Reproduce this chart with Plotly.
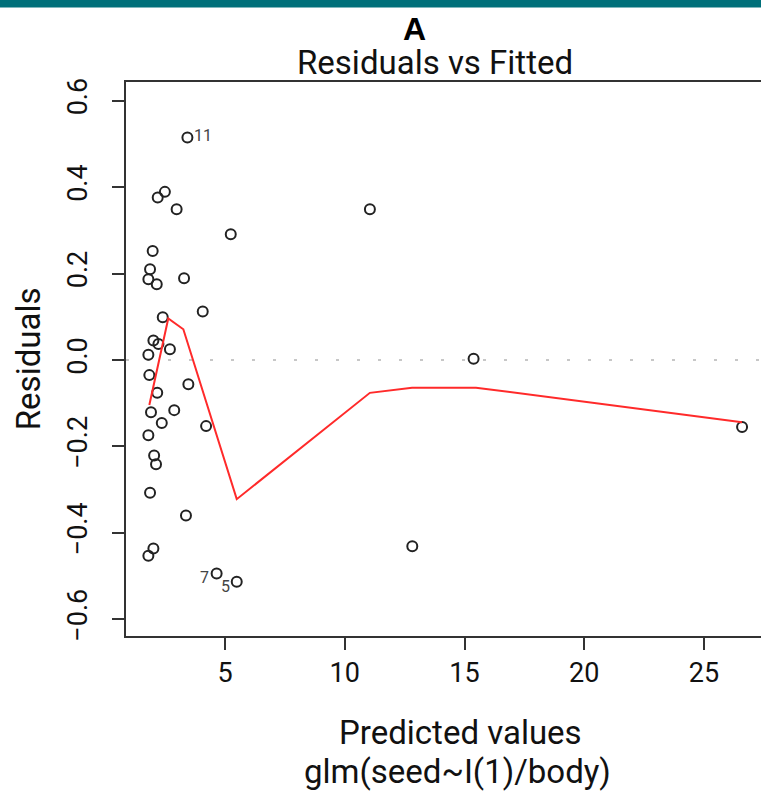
import plotly.graph_objects as go

# Fitted values and residuals of glm(seed ~ I(1)/body)
fitted = [3.43, 2.19, 2.49, 2.98, 5.24, 1.98, 1.87, 1.80, 2.15, 3.29,
          4.07, 2.40, 2.01, 2.22, 2.70, 1.80, 1.84, 2.17, 3.47, 1.91,
          2.88, 2.36, 4.21, 1.80, 2.04, 2.12, 1.87, 3.37, 2.01, 1.80,
          4.65, 5.49, 11.05, 15.38, 12.82, 26.59]
resid = [0.515, 0.376, 0.389, 0.349, 0.291, 0.252, 0.210, 0.187, 0.175, 0.189,
         0.112, 0.099, 0.045, 0.037, 0.025, 0.012, -0.035, -0.076, -0.056, -0.121,
         -0.116, -0.146, -0.153, -0.174, -0.221, -0.241, -0.307, -0.360, -0.436, -0.453,
         -0.494, -0.513, 0.349, 0.003, -0.431, -0.155]

# Observation numbers of the three largest residuals and their positions in the arrays
flag_labels = ["11", "7", "5"]
flag_index = [0, 30, 31]
flag_xshift = [16, -12, -11]
flag_yshift = [2, -4, -5]

# Lowess smoother through the residuals
smooth_x = [1.84, 2.63, 3.26, 5.49, 11.05, 12.81, 15.48, 26.59]
smooth_y = [-0.104, 0.096, 0.071, -0.322, -0.076, -0.064, -0.064, -0.144]

x_ticks = [5, 10, 15, 20, 25]
y_ticks = [-0.6, -0.4, -0.2, 0.0, 0.2, 0.4, 0.6]
y_ticktext = ["\u22120.6", "\u22120.4", "\u22120.2", "0.0", "0.2", "0.4", "0.6"]

FONT = "Roboto, Liberation Sans, sans-serif"
INK = "#222222"

fig = go.Figure()

fig.add_trace(go.Scatter(
    x=fitted, y=resid, mode="markers",
    marker=dict(symbol="circle-open", size=10, color=INK, line=dict(width=2, color=INK)),
    hoverinfo="skip", showlegend=False,
))

fig.add_trace(go.Scatter(
    x=smooth_x, y=smooth_y, mode="lines",
    line=dict(color="#ff2a2a", width=2),
    hoverinfo="skip", showlegend=False,
))

# Reference line at zero residual
fig.add_shape(type="line", xref="paper", yref="y", x0=0, x1=1, y0=0, y1=0,
              line=dict(color="#b5b5b5", width=1.6, dash="3px,18px"), layer="below")

# Teal band along the top edge of the page
fig.add_shape(type="rect", xref="paper", yref="paper",
              x0=-0.2, x1=1.0, y0=1.1345, y1=1.16,
              line=dict(width=0), fillcolor="#00707a")

annotations = []
for lab, i, dx, dy in zip(flag_labels, flag_index, flag_xshift, flag_yshift):
    annotations.append(dict(
        x=fitted[i], y=resid[i], xref="x", yref="y", text=lab, showarrow=False,
        xshift=dx, yshift=dy, font=dict(family=FONT, size=16, color="#444444"),
    ))


def page_text(text, x, y, size, angle=0, family=FONT, color="#111111"):
    return dict(text=text, x=x, y=y, xref="paper", yref="paper", showarrow=False,
                xanchor="center", yanchor="middle", textangle=angle,
                font=dict(family=family, size=size, color=color))


annotations += [
    page_text("<b>A</b>", 0.455, 1.0957, 32, family="Liberation Sans, Arial, sans-serif",
              color="#000000"),
    page_text("Residuals vs Fitted", 0.487, 1.0343, 33),
    page_text("Predicted values", 0.526, -0.1733, 33),
    page_text("glm(seed~I(1)/body)", 0.522, -0.2437, 33),
    page_text("Residuals", -0.154, 0.5, 33, angle=-90),
]

fig.update_layout(
    width=761, height=796,
    margin=dict(l=126, r=0, t=82, b=160),
    paper_bgcolor="white", plot_bgcolor="white",
    showlegend=False,
    annotations=annotations,
    xaxis=dict(
        range=[0.866, 27.38], tickmode="array", tickvals=x_ticks,
        ticks="outside", ticklen=12, tickwidth=1.5, tickcolor="#333333",
        showline=True, linecolor="#333333", linewidth=1.5, mirror=True,
        showgrid=False, zeroline=False,
        tickfont=dict(family=FONT, size=27, color="#111111"),
    ),
    yaxis=dict(
        range=[-0.6386, 0.6432], tickmode="array", tickvals=y_ticks, ticktext=y_ticktext,
        ticks="outside", ticklen=12, tickwidth=1.5, tickcolor="#333333",
        showline=True, linecolor="#333333", linewidth=1.5, mirror=False,
        showgrid=False, zeroline=False, tickangle=-90, ticklabelstandoff=14,
        tickfont=dict(family=FONT, size=27, color="#111111"),
    ),
)

fig.write_html("out.html", config={"displayModeBar": False})
